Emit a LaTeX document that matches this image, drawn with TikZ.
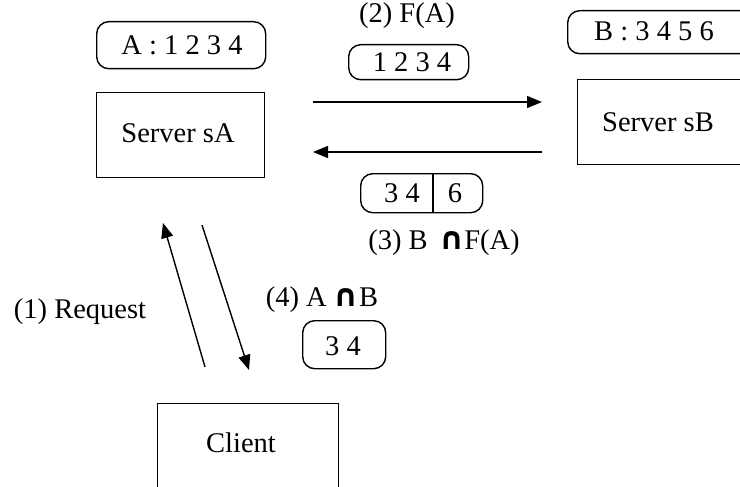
\documentclass[tikz,border=0pt]{standalone}
\usepackage{fontspec}
\setmainfont{Liberation Serif}
\newfontfamily\symfont{DejaVu Sans}
\usetikzlibrary{arrows.meta}
\begin{document}
\begin{tikzpicture}[x=1pt,y=-1pt,
  every node/.style={font=\fontsize{28.5}{31}\selectfont, inner sep=0pt},
  srv/.style={draw, line width=1.4pt, minimum width=#1, anchor=north west},
  tag/.style={draw, line width=1.4pt, rounded corners=12pt, anchor=north west},
  arr/.style={line width=1.4pt, -{Triangle[length=15pt,width=12pt]}}]
\useasboundingbox (0,0) rectangle (740,487);
\clip (0,0) rectangle (740,487);
% servers
\node[srv=168pt, minimum height=85pt] (sA) at (96,92) {};
\node at (178,133) (sAt) {Server sA};
\node[srv=180pt, minimum height=85pt] (sB) at (577,79) {};
\node at (658,122) (sBt) {Server sB};
\node[srv=181pt, minimum height=100pt] (cl) at (157,403) {};
\node at (241,443) (clt) {Client};
% tags
\node[tag, minimum width=169pt, minimum height=47pt] (tA) at (96,21) {};
\node at (182,45) (tAt) {A : 1 2 3 4};
\node[tag, minimum width=190pt, minimum height=43pt] (tB) at (567,10) {};
\node at (654,31) (tBt) {B : 3 4 5 6};
\node[tag, minimum width=120pt, minimum height=35pt] (tF) at (348,44) {};
\node at (412,62) (tFt) {1 2 3 4};
\node[tag, minimum width=122pt, minimum height=39pt] (tS) at (360,173) {};
\draw[line width=1.4pt] (433,173) -- (433,212);
\node at (402,193) (tS1) {3 4};
\node at (455,193) (tS2) {6};
\node[tag, minimum width=83pt, minimum height=48pt] (tR) at (302,320) {};
\node at (343,346) (tRt) {3 4};
% labels
\node at (407,16) (l2) {(2) F(A)};
\node at (444,243) (l3) {(3) B\hspace{0.4em}{\symfont\bfseries\fontsize{31}{31}\selectfont ∩}F(A)};
\node at (322,300) (l4) {(4) A\hspace{0.25em}{\symfont\bfseries\fontsize{31}{31}\selectfont ∩}B};
\node at (80,312) (l1) {(1) Request};
% arrows
\coordinate (a1s) at (313,102); \coordinate (a1e) at (542,102);
\coordinate (a2s) at (542,152); \coordinate (a2e) at (313,152);
\coordinate (a3s) at (205,367); \coordinate (a3e) at (163,223);
\coordinate (a4s) at (202,225); \coordinate (a4e) at (249,370);
\draw[arr] (a1s) -- (a1e);
\draw[arr] (a2s) -- (a2e);
\draw[arr] (a3s) -- (a3e);
\draw[arr] (a4s) -- (a4e);
\end{tikzpicture}
\end{document}
